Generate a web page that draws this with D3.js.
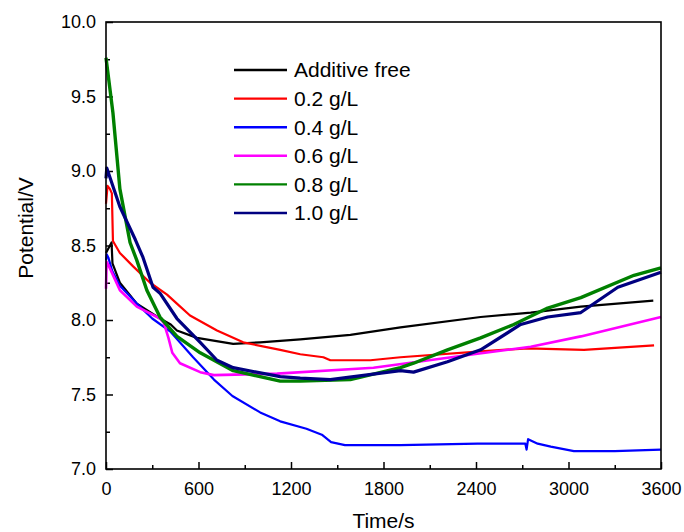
<!DOCTYPE html>
<html lang="en">
<head>
<meta charset="UTF-8">
<title>Potential vs time</title>
<script src="https://cdn.jsdelivr.net/npm/d3@7"></script>
<style>
    body { margin: 0; background: #fff; }
    text { font-family: "Liberation Sans", Arial, sans-serif; fill: #000; }
    .axis path { display: none; }
    .axis line { stroke: #000; stroke-width: 1.5; }
    .axis text { font-size: 18px; }
</style>
</head>
<body>
<svg width="684" height="532"></svg>
<script>
    // [time (s), potential (V)]
    let additiveFree = [[0, 8.45], [36, 8.52], [42, 8.38], [90, 8.25], [200, 8.11], [350, 8.01], [420, 7.97], [460, 7.93],
        [590, 7.88], [825, 7.84], [1000, 7.85], [1260, 7.87], [1585, 7.90], [1910, 7.95], [2430, 8.02], [2755, 8.05],
        [3080, 8.09], [3550, 8.13]];
    let g02 = [[0, 8.78], [10, 8.90], [25, 8.88], [38, 8.85], [45, 8.53], [90, 8.45], [176, 8.36], [286, 8.25], [396, 8.17],
        [460, 8.11], [545, 8.03], [720, 7.93], [890, 7.85], [1130, 7.80], [1260, 7.77], [1410, 7.75], [1455, 7.73],
        [1715, 7.73], [1910, 7.75], [2430, 7.79], [2735, 7.81], [3100, 7.80], [3555, 7.83]];
    let g04 = [[0, 8.40], [5, 8.44], [15, 8.42], [40, 8.33], [90, 8.23], [200, 8.11], [300, 8.01], [420, 7.92], [565, 7.75],
        [700, 7.60], [820, 7.49], [1000, 7.38], [1130, 7.32], [1300, 7.27], [1400, 7.23], [1460, 7.18], [1550, 7.16],
        [1910, 7.16], [2410, 7.17], [2720, 7.17], [2728, 7.13], [2738, 7.20], [2800, 7.17], [2885, 7.15], [3035, 7.12],
        [3300, 7.12], [3600, 7.13]];
    let g06 = [[0, 8.21], [4, 8.39], [15, 8.37], [90, 8.20], [200, 8.09], [350, 8.01], [375, 7.98], [405, 7.88], [430, 7.78],
        [480, 7.71], [611, 7.65], [700, 7.63], [1110, 7.64], [1735, 7.68], [2385, 7.77], [2755, 7.82], [3080, 7.89],
        [3600, 8.02]];
    let g08 = [[0, 9.76], [45, 9.39], [90, 8.88], [156, 8.52], [200, 8.40], [265, 8.20], [350, 8.02], [460, 7.89],
        [611, 7.78], [825, 7.66], [1130, 7.59], [1260, 7.59], [1585, 7.60], [1910, 7.68], [1995, 7.71], [2215, 7.80],
        [2430, 7.88], [2645, 7.97], [2865, 8.08], [3080, 8.15], [3425, 8.30], [3600, 8.35]];
    let g10 = [[0, 8.95], [5, 9.02], [90, 8.76], [190, 8.54], [240, 8.42], [305, 8.22], [350, 8.18], [460, 8.01],
        [611, 7.85], [720, 7.73], [825, 7.68], [1130, 7.62], [1260, 7.61], [1455, 7.60], [1910, 7.66], [1995, 7.65],
        [2215, 7.72], [2430, 7.80], [2690, 7.97], [2865, 8.02], [3080, 8.05], [3320, 8.22], [3600, 8.32]];

    let names = ["Additive free", "0.2 g/L", "0.4 g/L", "0.6 g/L", "0.8 g/L", "1.0 g/L"];
    let colors = ["#000000", "#ff0000", "#0000ff", "#ff00ff", "#008000", "#000080"];
    let widths = [2.2, 2.2, 2.2, 2.6, 3.4, 3.2];
    let seriesData = [additiveFree, g02, g04, g06, g08, g10];

    let xTicks = [0, 600, 1200, 1800, 2400, 3000, 3600];
    let yTicks = [7.0, 7.5, 8.0, 8.5, 9.0, 9.5, 10.0];

    let margin = { top: 22, right: 23, bottom: 63, left: 106 };
    let width = 684 - margin.left - margin.right;
    let height = 532 - margin.top - margin.bottom;

    let svg = d3.select("svg")
        .append("g")
        .attr("transform", `translate(${margin.left},${margin.top})`);

    let x = d3.scaleLinear().domain([0, 3600]).range([0, width]);
    let y = d3.scaleLinear().domain([7, 10]).range([height, 0]);

    // minor ticks halfway between the majors
    let xMinor = xTicks.slice(0, -1).map(d => d + 300);
    let yMinor = yTicks.slice(0, -1).map(d => d + 0.25);

    svg.append("g").attr("class", "axis")
        .attr("transform", `translate(0,${height})`)
        .call(d3.axisBottom(x).tickValues(xMinor).tickSizeInner(-4).tickSizeOuter(0).tickFormat(""));
    svg.append("g").attr("class", "axis")
        .attr("transform", `translate(0,${height})`)
        .call(d3.axisBottom(x).tickValues(xTicks).tickSizeInner(-7).tickSizeOuter(0).tickPadding(13)
            .tickFormat(d3.format("d")));
    svg.append("g").attr("class", "axis")
        .call(d3.axisLeft(y).tickValues(yMinor).tickSizeInner(-4).tickSizeOuter(0).tickFormat(""));
    svg.append("g").attr("class", "axis")
        .call(d3.axisLeft(y).tickValues(yTicks).tickSizeInner(-7).tickSizeOuter(0).tickPadding(10)
            .tickFormat(d3.format(".1f")));

    let line = d3.line()
        .x(d => x(d[0]))
        .y(d => y(d[1]));

    let plot = svg.append("g");
    seriesData.forEach((s, i) => {
        plot.append("path")
            .datum(s)
            .attr("fill", "none")
            .attr("stroke", colors[i])
            .attr("stroke-width", widths[i])
            .attr("stroke-linejoin", "round")
            .attr("d", line);
    });

    svg.append("rect")
        .attr("width", width)
        .attr("height", height)
        .attr("fill", "none")
        .attr("stroke", "#000")
        .attr("stroke-width", 1.6);

    // legend
    let legend = svg.append("g").attr("transform", "translate(128,48)");
    names.forEach((n, i) => {
        let row = legend.append("g").attr("transform", `translate(0,${i * 28.6})`);
        row.append("line")
            .attr("x1", 0).attr("x2", 53)
            .attr("stroke", colors[i])
            .attr("stroke-width", 2.4);
        row.append("text")
            .attr("x", 60)
            .attr("dy", "0.35em")
            .attr("font-size", "21px")
            .text(n);
    });

    svg.append("text")
        .attr("x", width / 2)
        .attr("y", height + 59)
        .attr("text-anchor", "middle")
        .attr("font-size", "21px")
        .text("Time/s");

    svg.append("text")
        .attr("transform", `translate(-80,${228 - margin.top}) rotate(-90)`)
        .attr("text-anchor", "middle")
        .attr("dy", "0.35em")
        .attr("font-size", "21px")
        .text("Potential/V");
</script>
</body>
</html>
